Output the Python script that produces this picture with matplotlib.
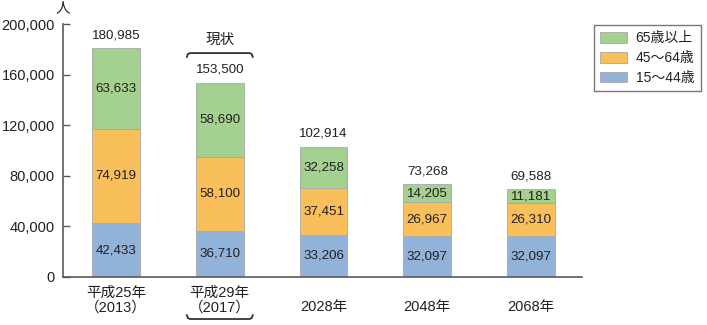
import matplotlib
matplotlib.use("Agg")
import matplotlib.pyplot as plt
from matplotlib.patches import Patch
from matplotlib.transforms import blended_transform_factory

plt.rcParams['font.family'] = ['Liberation Sans', 'Noto Sans CJK JP', 'DejaVu Sans']

categories = ["平成25年\n（2013）", "平成29年\n（2017）", "\n2028年", "\n2048年", "\n2068年"]
age_15_44 = [42433, 36710, 33206, 32097, 32097]
age_45_64 = [74919, 58100, 37451, 26967, 26310]
age_65_up = [63633, 58690, 32258, 14205, 11181]
totals = [180985, 153500, 102914, 73268, 69588]
series_names = ["15～44歳", "45～64歳", "65歳以上"]
colors = ["#92b3d9", "#f9bf5b", "#a4d18f"]

fig = plt.figure(figsize=(7.07, 3.25), dpi=100)
ax = fig.add_axes([63 / 707, 48 / 325, (582 - 63) / 707, 253 / 325])

x = list(range(len(categories)))
width = 0.46
text_color = "#231f20"
axis_color = "#5a5a5a"

bottom = [0] * len(x)
for vals, col in zip([age_15_44, age_45_64, age_65_up], colors):
    ax.bar(x, vals, width, bottom=bottom, color=col,
           edgecolor="#a8a8a8", linewidth=0.6, zorder=2)
    for xi, v, b in zip(x, vals, bottom):
        ax.text(xi, b + v / 2, f"{v:,}", ha="center", va="center",
                fontsize=9.6, color=text_color, zorder=3)
    bottom = [b + v for b, v in zip(bottom, vals)]

for xi, t in zip(x, totals):
    ax.annotate(f"{t:,}", (xi, t), xytext=(0, 5), textcoords="offset points",
                ha="center", va="bottom", fontsize=9.6, color=text_color)

ax.set_xlim(-0.511, 4.49)
ax.set_ylim(0, 200000)
ax.set_yticks(range(0, 200001, 40000))
ax.set_yticklabels([f"{v:,}" for v in range(0, 200001, 40000)], fontsize=10.5,
                   color=text_color)
ax.set_xticks(x)
ax.set_xticklabels(categories, fontsize=10.5, color=text_color, linespacing=1.1)
ax.tick_params(axis="x", length=0, pad=6)
ax.tick_params(axis="y", direction="in", length=5, width=1, color=axis_color, pad=6)

for s in ["top", "right"]:
    ax.spines[s].set_visible(False)
for s in ["left", "bottom"]:
    ax.spines[s].set_color(axis_color)
    ax.spines[s].set_linewidth(1.2)

# unit label
ax.text(0.0, 1.063, "人", transform=ax.transAxes, ha="center", va="center",
        fontsize=10.5, color=text_color)

# brackets marking the current year
tr = blended_transform_factory(ax.transData, ax.transAxes)
cx = 1
hw = 0.318
dy = 0.016
top_y = 0.885
bx = [cx - hw, cx - hw + 0.01, cx - hw + 0.03, cx + hw - 0.03, cx + hw - 0.01, cx + hw]
ax.plot(bx, [top_y - dy, top_y - 0.004, top_y, top_y, top_y - 0.004, top_y - dy],
        transform=tr, color="#333333", lw=1.3, clip_on=False, solid_capstyle="round")
ax.text(cx, 0.937, "現状", transform=tr, ha="center", va="center",
        fontsize=10.5, color=text_color)
bot_y = -0.166
ax.plot(bx, [bot_y + dy, bot_y + 0.004, bot_y, bot_y, bot_y + 0.004, bot_y + dy],
        transform=tr, color="#333333", lw=1.3, clip_on=False, solid_capstyle="round")

handles = [Patch(facecolor=colors[2], edgecolor="#a8a8a8", linewidth=0.6),
           Patch(facecolor=colors[1], edgecolor="#a8a8a8", linewidth=0.6),
           Patch(facecolor=colors[0], edgecolor="#a8a8a8", linewidth=0.6)]
leg = fig.legend(handles, [series_names[2], series_names[1], series_names[0]],
                 loc="upper left", bbox_to_anchor=(594 / 707, 1 - 25 / 325),
                 fontsize=10, frameon=True, fancybox=False, handlelength=1.9,
                 handleheight=0.8, labelspacing=0.42, borderpad=0.45,
                 handletextpad=0.65, borderaxespad=0)
leg.get_frame().set_edgecolor("#555555")
leg.get_frame().set_linewidth(1.0)
for t in leg.get_texts():
    t.set_color(text_color)

fig.savefig("out.png", dpi=100)
